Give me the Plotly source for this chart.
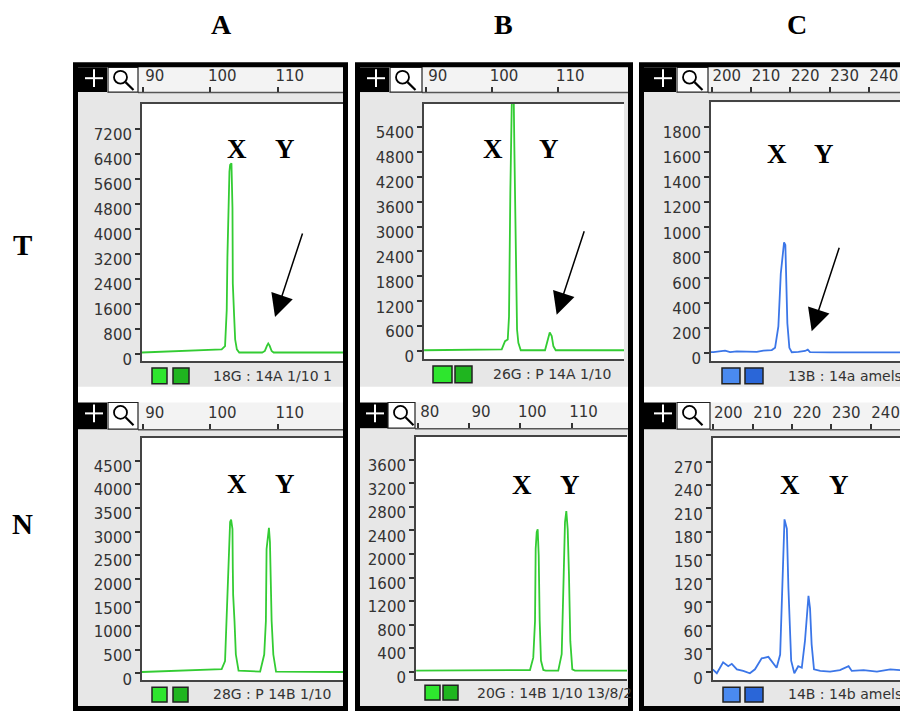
import plotly.graph_objects as go

# ---------------------------------------------------------------- data
column_labels = ["A", "B", "C"]
row_labels = ["T", "N"]
peak_labels = ["X", "Y"]

# Column A, row T
at_size = [89.9, 101.7, 102.2, 102.45, 102.55, 102.7, 102.85, 102.95, 103.15, 103.3, 103.35,
           103.55, 103.7, 103.95, 104.3, 107.7, 108.1, 108.4, 108.6, 108.8, 109.1, 109.4, 119.7]
at_rfu = [40, 140, 245, 1400, 3090, 4670, 5830, 6040, 6090, 4670, 2245,
          1190, 455, 140, 40, 40, 90, 250, 330, 260, 90, 40, 40]
at_yticks = [0, 800, 1600, 2400, 3200, 4000, 4800, 5600, 6400, 7200]
at_rticks = [90, 100, 110]
at_caption = "18G : 14A 1/10 1"

# Column A, row N
an_size = [89.9, 101.7, 102.2, 102.4, 102.7, 102.85, 102.95, 103.1, 103.3, 103.35, 103.4, 103.6, 103.8,
           104.2, 107.4, 108.0, 108.25, 108.35, 108.6, 108.7, 108.85, 108.95, 109.1, 109.35, 109.75, 119.7]
an_rfu = [30, 90, 260, 1100, 1930, 2630, 3200, 3250, 3050, 2210, 1660, 1110, 400,
          60, 40, 400, 1110, 2630, 3050, 3080, 2780, 1660, 1110, 400, 40, 30]
an_yticks = [0, 500, 1000, 1500, 2000, 2500, 3000, 3500, 4000, 4500]
an_rticks = [90, 100, 110]
an_caption = "28G : P 14B 1/10"

# Column B, row T
bt_size = [89.75, 101.46, 101.96, 102.37, 102.56, 102.61, 102.76, 102.97, 103.06, 103.2, 103.36,
           103.57, 103.77, 103.97, 104.33, 107.99, 108.4, 108.7, 109.0, 109.25, 109.6, 119.9]
bt_rfu = [20, 40, 240, 280, 830, 2260, 3850, 5900, 7000, 7000, 4960,
          2260, 520, 200, 20, 20, 280, 450, 360, 120, 20, 20]
bt_yticks = [0, 600, 1200, 1800, 2400, 3000, 3600, 4200, 4800, 5400]
bt_rticks = [90, 100, 110]
bt_caption = "26G : P 14A 1/10"

# Column B, row N
bn_size = [79.7, 101.89, 102.53, 102.87, 103.0, 103.2, 103.39, 103.59, 103.78, 104.03, 104.49, 104.95,
           107.4, 108.07, 108.46, 108.71, 108.97, 109.24, 109.49, 109.75, 110.14, 110.66, 120.8]
bn_rfu = [20, 30, 240, 860, 2090, 2370, 2420, 1980, 860, 190, 30, 20,
          20, 300, 1640, 2540, 2730, 2420, 1640, 520, 40, 20, 20]
bn_yticks = [0, 400, 800, 1200, 1600, 2000, 2400, 2800, 3200, 3600]
bn_rticks = [80, 90, 100, 110]
bn_caption = "20G : 14B 1/10 13/8/2"

# Column C, row T
ct_size = [199.8, 200.41, 203.38, 204.66, 206.36, 211.45, 213.13, 215.27, 216.11, 216.95, 217.56,
           218.22, 218.4, 218.73, 218.91, 219.24, 219.75, 220.36, 222.04, 223.74, 224.43, 225.01,
           230.1, 249.95]
ct_rfu = [5, 5, 18, 5, 12, 8, 18, 22, 40, 210, 630,
          867, 880, 860, 630, 236, 40, 5, 8, 15, 25, 5,
          3, 3]
ct_yticks = [0, 200, 400, 600, 800, 1000, 1200, 1400, 1600, 1800]
ct_rticks = [200, 210, 220, 230, 240]
ct_caption = "13B : 14a amels"

# Column C, row N
cn_size = [199.85, 200.9, 202.5, 203.8, 204.7, 206.0, 207.6, 209.3, 210.6, 212.3, 214.0, 215.3,
           216.1, 217.0, 217.7, 218.1, 218.7, 219.1, 219.8, 220.6, 221.6, 222.5, 223.3, 224.2,
           224.6, 225.0, 225.6, 227.2, 229.7, 232.2, 234.4, 235.2, 238.2, 241.6, 245.0, 249.5]
cn_rfu = [4, -1, 13, 8, 11, 4, 2, -1, 4, 18, 20, 11,
          6, 23, 137, 196, 184, 108, 15, -1, 8, 6, 40, 98,
          82, 36, 4, 2, 1, 3, 8, 2, 3, 1, 4, 2]
cn_yticks = [0, 30, 60, 90, 120, 150, 180, 210, 240, 270]
cn_rticks = [200, 210, 220, 230, 240]
cn_caption = "14B : 14b amels"

# ---------------------------------------------------------------- layout geometry (pixels)
# The page body has an 8 px margin, so the figure is 900x711 and page pixel p maps to p - 8.
OFF = 8
W, H = 908 - OFF, 719 - OFF
GREEN = "#33cc33"
BLUE = "#3b76e8"


def fx(p):
    return (p - OFF) / W


def fy(p):
    return 1 - (p - OFF) / H


frames = [(73, 348), (355, 633), (639, 965)]   # outer x extents of the three black frames
FRAME_TOP, FRAME_BOTTOM = 63, 719

panels = [
    dict(size=at_size, rfu=at_rfu, yticks=at_yticks, rticks=at_rticks, caption=at_caption, color=GREEN,
         col=0, bar=(68, 93), gray=(93, 391), plus=(73, 107), mag=(108, 138),
         px=(142, 343), py=(105, 365), xr=[89.9, 119.67], yr=[-231, 7990],
         sq=[(152, 167), (173, 189)], sqy=(372, 388), cap=(211, 380), xy=[(236.7, 150.7), (285, 150.7)],
         arrow=(275, 320.5), rshift=12, sq_cols=["#2ee62e", "#1fb51f"]),
    dict(size=an_size, rfu=an_rfu, yticks=an_yticks, rticks=an_rticks, caption=an_caption, color=GREEN,
         col=0, bar=(407, 434), gray=(434, 714), plus=(73, 107), mag=(108, 138),
         px=(142, 343), py=(443, 688), xr=[89.9, 119.67], yr=[-146, 4975],
         sq=[(152, 167), (173, 188)], sqy=(695, 710), cap=(211, 702), xy=[(236.7, 489), (285, 489)],
         arrow=None, rshift=12, sq_cols=["#2ee62e", "#1fb51f"]),
    dict(size=bt_size, rfu=bt_rfu, yticks=bt_yticks, rticks=bt_rticks, caption=bt_caption, color=GREEN,
         col=1, bar=(68, 93), gray=(93, 391), plus=(357, 389), mag=(390, 422),
         px=(424, 624), py=(105, 363), xr=[89.74, 119.9], yr=[-191, 5955],
         sq=[(433, 452), (455, 472)], sqy=(370, 387), cap=(491, 378), xy=[(493.3, 150.7), (549, 150.7)],
         arrow=(556.7, 318.3), rshift=12, sq_cols=["#2ee62e", "#1fb51f"]),
    dict(size=bn_size, rfu=bn_rfu, yticks=bn_yticks, rticks=bn_rticks, caption=bn_caption, color=GREEN,
         col=1, bar=(407, 433), gray=(433, 714), plus=(357, 388), mag=(388, 415),
         px=(416, 627), py=(442, 687), xr=[79.67, 120.8], yr=[-129, 3986],
         sq=[(425, 440), (443, 458)], sqy=(693, 708), cap=(475, 701), xy=[(521.7, 490.7), (570, 490.7)],
         arrow=None, rshift=12, sq_cols=["#2ee62e", "#1fb51f"]),
    dict(size=ct_size, rfu=ct_rfu, yticks=ct_yticks, rticks=ct_rticks, caption=ct_caption, color=BLUE,
         col=2, bar=(68, 93), gray=(93, 391), plus=(640, 676), mag=(677, 708),
         px=(711, 908), py=(103.3, 365), xr=[199.8, 249.95], yr=[-65, 1997],
         sq=[(722, 740), (745, 763)], sqy=(372, 388), cap=(786, 380), xy=[(776.7, 155.7), (824, 155.7)],
         arrow=(811.7, 335), rshift=15, sq_cols=["#4a8af0", "#2a66d8"]),
    dict(size=cn_size, rfu=cn_rfu, yticks=cn_yticks, rticks=cn_rticks, caption=cn_caption, color=BLUE,
         col=2, bar=(407, 434), gray=(434, 714), plus=(640, 676), mag=(677, 710),
         px=(712.7, 908), py=(443, 688), xr=[199.85, 249.5], yr=[-10.1, 300],
         sq=[(723, 740), (745, 763)], sqy=(695, 710), cap=(786, 702), xy=[(790, 490.7), (839, 490.7)],
         arrow=None, rshift=15, sq_cols=["#4a8af0", "#2a66d8"]),
]

TICKFONT = dict(family="DejaVu Sans", size=15, color="#333333")

fig = go.Figure()
shapes = []
annotations = []
axes = {}


def rect(x0, y0, x1, y1, fill, line_color=None, line_width=0, layer="below"):
    return dict(type="rect", xref="paper", yref="paper", x0=fx(x0), x1=fx(x1), y0=fy(y0), y1=fy(y1),
                fillcolor=fill, line=dict(color=line_color or fill, width=line_width), layer=layer)


def seg(x0, y0, x1, y1, color, width, layer="above"):
    return dict(type="line", xref="paper", yref="paper", x0=fx(x0), x1=fx(x1), y0=fy(y0), y1=fy(y1),
                line=dict(color=color, width=width), layer=layer)


for i, p in enumerate(panels):
    n = i + 1
    sfx = "" if n == 1 else str(n)
    xa, ya = "x" + sfx, "y" + sfx
    rn = n + 6
    ra = "x" + str(rn)
    fl, fr = frames[p["col"]]
    in_l, in_r = fl + 5, min(fr - 5, 908)

    fig.add_trace(go.Scatter(x=p["size"], y=p["rfu"], mode="lines",
                             line=dict(color=p["color"], width=1.8),
                             xaxis=xa, yaxis=ya, hoverinfo="skip", showlegend=False))
    fig.add_trace(go.Scatter(x=[], y=[], xaxis=ra, yaxis=ya, showlegend=False, hoverinfo="skip"))

    axes["xaxis" + sfx] = dict(domain=[fx(p["px"][0]), fx(p["px"][1])], range=p["xr"], anchor=ya,
                               showline=True, mirror=True, linecolor="#444444", linewidth=2,
                               ticks="", showticklabels=False, showgrid=False, zeroline=False)
    axes["yaxis" + sfx] = dict(domain=[fy(p["py"][1]), fy(p["py"][0])], range=p["yr"], anchor=xa,
                               showline=True, linecolor="#444444", linewidth=2,
                               ticks="outside", ticklen=5, tickwidth=1.5, tickcolor="#333333",
                               tickvals=p["yticks"], tickfont=TICKFONT, ticklabelshift=6,
                               showgrid=False, zeroline=False)
    axes["xaxis" + str(rn)] = dict(overlaying=xa, anchor="free", position=fy(p["bar"][1]), side="top",
                                   range=p["xr"], tickvals=p["rticks"], ticks="outside", ticklen=5,
                                   tickwidth=1.5, tickcolor="#333333", ticklabelshift=p["rshift"],
                                   tickfont=TICKFONT, showline=False, showgrid=False, zeroline=False)

    # panel backgrounds
    shapes.append(rect(in_l, p["bar"][1], in_r, p["gray"][1], "#e7e7e7"))
    shapes.append(rect(p["mag"][1], p["bar"][0], in_r, p["bar"][1], "#f3f3f3"))
    shapes.append(seg(p["mag"][1], p["bar"][1] + 0.5, in_r, p["bar"][1] + 0.5, "#555555", 1.5, layer="below"))
    shapes.append(rect(p["px"][0], p["py"][0], p["px"][1], p["py"][1], "white"))
    # "+" tool box
    shapes.append(rect(p["plus"][0], p["bar"][0], p["plus"][1], p["bar"][1], "black", layer="above"))
    cx, cy = p["plus"][1] - 13, p["bar"][0] + 11
    shapes.append(seg(cx - 9, cy, cx + 9, cy, "white", 2))
    shapes.append(seg(cx, cy - 9, cx, cy + 9, "white", 2))
    # magnifier tool box
    shapes.append(rect(p["mag"][0], p["bar"][0], p["mag"][1], p["bar"][1], "white", "#222222", 1.2, layer="above"))
    mx, my = p["mag"][0] + 12.5, p["bar"][0] + 10
    shapes.append(dict(type="circle", xref="paper", yref="paper", x0=fx(mx - 6.5), x1=fx(mx + 6.5),
                       y0=fy(my + 6.5), y1=fy(my - 6.5), line=dict(color="black", width=1.8),
                       fillcolor="rgba(0,0,0,0)", layer="above"))
    shapes.append(seg(mx + 5, my + 5, mx + 13, my + 13, "black", 2.2))
    # dye colour squares
    for (s0, s1), c in zip(p["sq"], p["sq_cols"]):
        shapes.append(rect(s0, p["sqy"][0], s1, p["sqy"][1], c, "#222222", 1.5, layer="above"))

    # caption
    annotations.append(dict(text=p["caption"], x=fx(p["cap"][0]), y=fy(p["cap"][1]), xref="paper",
                            yref="paper", xanchor="left", yanchor="middle", showarrow=False,
                            font=dict(family="DejaVu Sans", size=14, color="#333333")))
    # X / Y peak labels
    for lab, (lx, ly) in zip(peak_labels, p["xy"]):
        annotations.append(dict(text=lab, x=fx(lx), y=fy(ly), xref="paper", yref="paper",
                                xanchor="center", yanchor="middle", showarrow=False,
                                font=dict(family="Liberation Serif", size=27, color="black", weight="bold")))
    # arrow to the weak Y peak
    if p["arrow"] is not None:
        hx, hy = p["arrow"]
        annotations.append(dict(text="", x=fx(hx), y=fy(hy), xref="paper", yref="paper",
                                ax=28, ay=-85, showarrow=True, arrowhead=2, arrowsize=3,
                                arrowwidth=1.5, arrowcolor="black"))

# black frames round each column
for fl, fr in frames:
    shapes.append(dict(type="rect", xref="paper", yref="paper", x0=fx(fl + 2.5), x1=fx(fr - 2.5),
                       y0=fy(FRAME_TOP + 2.5), y1=fy(FRAME_BOTTOM - 2.5),
                       line=dict(color="black", width=5), fillcolor="rgba(0,0,0,0)", layer="above"))

# column and row headings
for lab, cx in zip(column_labels, [221, 503, 797]):
    annotations.append(dict(text=lab, x=fx(cx), y=1.0, xref="paper", yref="paper", showarrow=False,
                            xanchor="center", yanchor="top", borderpad=0,
                            font=dict(family="Liberation Serif", size=28, color="black", weight="bold")))
for lab, ry in zip(row_labels, [248, 530]):
    annotations.append(dict(text=lab, x=fx(22), y=fy(ry), xref="paper", yref="paper", showarrow=False,
                            xanchor="center", yanchor="middle",
                            font=dict(family="Liberation Serif", size=29, color="black", weight="bold")))

fig.update_layout(width=W, height=H, margin=dict(l=0, r=0, t=0, b=0), paper_bgcolor="white",
                  plot_bgcolor="rgba(0,0,0,0)", showlegend=False, shapes=shapes,
                  annotations=annotations, **axes)

fig.write_html("out.html")
